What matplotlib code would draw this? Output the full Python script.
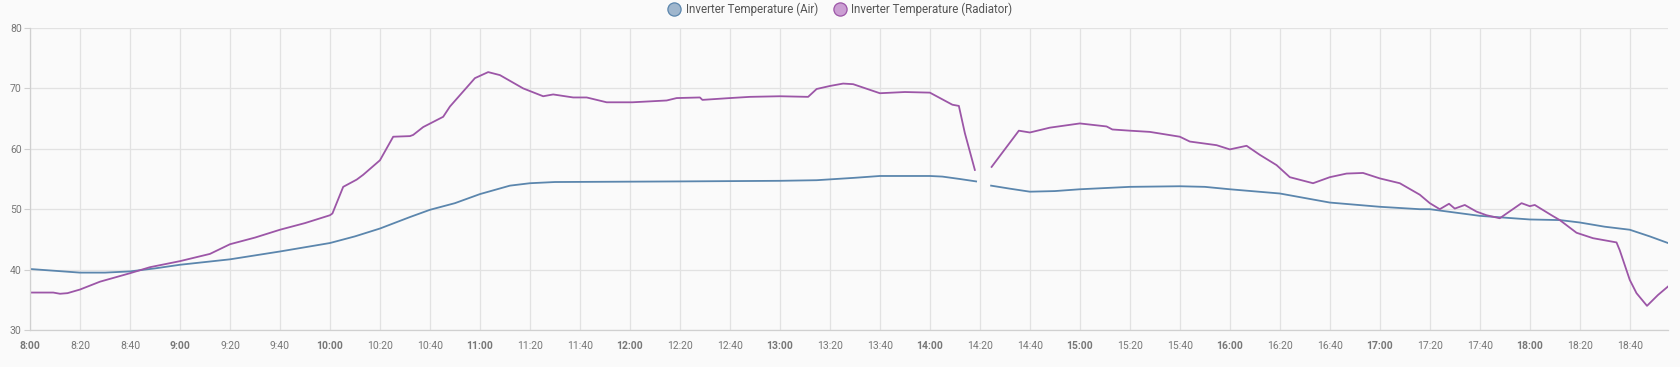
#!/usr/bin/env python3

import numpy as np
import matplotlib
matplotlib.use('Agg')
import matplotlib.pyplot as plt
from matplotlib.lines import Line2D

# minutes after 8:00, nan = no data (gap around 14:20)
air_minutes = [0, 10, 20, 30, 40, 50, 60, 80, 100, 120, 130, 140, 152, 160, 170,
			   180, 192, 200, 210, 260, 300, 314.7, 330, 340, 360, 365, 372, 378.5,
			   381, 384.5, 392, 400, 410, 420, 440, 460, 470, 480, 500, 520, 540,
			   556, 560, 580, 600, 612, 620, 630, 640, 648, 655.3]
air_temp = [40.1, 39.8, 39.5, 39.5, 39.7, 40.2, 40.8, 41.7, 43.0, 44.4, 45.5, 46.8, 48.7, 49.9, 51.0,
			52.5, 53.9, 54.3, 54.5, 54.6, 54.7, 54.8, 55.2, 55.5, 55.5, 55.4, 55.0, 54.6,
			np.nan, 53.9, 53.4, 52.9, 53.0, 53.3, 53.7, 53.8, 53.7, 53.3, 52.6, 51.1, 50.4,
			50.0, 50.0, 48.9, 48.3, 48.2, 47.8, 47.1, 46.6, 45.5, 44.4]

rad_minutes = [0, 9.3, 12, 15, 20, 28, 40, 48, 60, 72, 80, 90, 100, 110, 120, 121,
			   125.3, 130.7, 133.3, 140, 145.3, 152, 153.3, 157.3, 165.3, 168, 178, 183.3,
			   188, 197.3, 205.3, 209.3, 217.3, 222.7, 230.7, 241, 254.7, 258.7, 268, 269,
			   280, 288, 300, 311.3, 314.7, 320, 325.3, 329.3, 340, 350, 360, 369, 371.6,
			   374, 378, 381, 384.7, 395.6, 400, 408, 420, 430.7, 433, 440, 448, 460, 464,
			   474.7, 480, 486.7, 492, 498.7, 504, 513.3, 520, 526.7, 533.3, 540, 548, 556,
			   560, 564, 567.7, 570, 574, 578.7, 582.7, 588, 596.7, 600, 602, 608.7, 612,
			   618.7, 625.3, 634.7, 636, 640, 642.7, 646.9, 651.3, 655.3]
rad_temp = [36.2, 36.2, 36.0, 36.1, 36.7, 38.0, 39.4, 40.4, 41.4, 42.6, 44.2, 45.3, 46.6, 47.7, 49.0, 49.3,
			53.7, 54.9, 55.7, 58.1, 62.0, 62.1, 62.3, 63.6, 65.3, 67.0, 71.7, 72.7,
			72.2, 70.0, 68.7, 69.0, 68.5, 68.5, 67.7, 67.7, 68.0, 68.4, 68.5, 68.1,
			68.4, 68.6, 68.7, 68.6, 69.9, 70.4, 70.8, 70.7, 69.2, 69.4, 69.3, 67.3, 67.1,
			62.6, 56.5, np.nan, 57.0, 63.0, 62.7, 63.5, 64.2, 63.7, 63.2, 63.0, 62.8, 62.0, 61.2,
			60.6, 59.9, 60.5, 59.0, 57.3, 55.3, 54.3, 55.3, 55.9, 56.0, 55.1, 54.3, 52.4,
			51.0, 50.0, 50.9, 50.1, 50.7, 49.6, 49.0, 48.5, 51.0, 50.5, 50.7, 49.0, 48.2,
			46.1, 45.2, 44.5, 43.2, 38.3, 36.1, 34.0, 35.8, 37.2]

series_names = ['Inverter Temperature (Air)', 'Inverter Temperature (Radiator)']
series_colors = ['#5b86ad', '#9c56a7']
legend_fill = ['#9fb6cd', '#cb9fd3']

y_ticks = [30, 40, 50, 60, 70, 80]
x_tick_minutes = list(range(0, 641, 20))


def tick_label(m):
	h = 8 + m // 60
	return '{}:{:02d}'.format(h, m % 60)


def draw_chart():
	"""
	Build the temperature history chart and save it
	"""
	plt.rcParams['font.family'] = ['Roboto', 'DejaVu Sans']
	fig = plt.figure(figsize=(16.81, 3.67), dpi=100)
	fig.patch.set_facecolor('#fafafa')
	ax = fig.add_axes([30 / 1681, 37 / 367, 1638 / 1681, 302 / 367])
	ax.set_facecolor('#fafafa')

	ax.plot(air_minutes, air_temp, color=series_colors[0], lw=1.3, solid_joinstyle='round')
	ax.plot(rad_minutes, rad_temp, color=series_colors[1], lw=1.3, solid_joinstyle='round')

	ax.set_xlim(0, 655.3)
	ax.set_ylim(30, 80)
	ax.set_yticks(y_ticks)
	ax.set_xticks(x_tick_minutes)
	ax.set_xticklabels([tick_label(m) for m in x_tick_minutes])
	for lab, m in zip(ax.get_xticklabels(), x_tick_minutes):
		if m % 60 == 0:
			lab.set_fontweight('bold')
			lab.set_color('#555555')
	ax.grid(True, color='#e2e2e2', lw=0.9)
	ax.set_axisbelow(True)
	for side in ['top', 'right']:
		ax.spines[side].set_visible(False)
	for side in ['left', 'bottom']:
		ax.spines[side].set_color('#d0d0d0')
		ax.spines[side].set_linewidth(0.9)
	ax.tick_params(axis='x', length=0, pad=8, labelsize=7.5, labelcolor='#777777')
	ax.tick_params(axis='y', length=4, width=0.8, color='#d0d0d0', pad=2,
				   labelsize=7.5, labelcolor='#777777')

	handles = [Line2D([], [], ls='none', marker='o', markersize=9.5,
					  markerfacecolor=legend_fill[i], markeredgecolor=series_colors[i],
					  markeredgewidth=0.9) for i in range(2)]
	fig.legend(handles, series_names, loc='center', bbox_to_anchor=(0.5, 1 - 9 / 367),
			   ncol=2, frameon=False, fontsize=8.3, labelcolor='#555555',
			   handletextpad=0.5, columnspacing=1.4, handlelength=1.0)

	fig.savefig('out.png', dpi=100, facecolor=fig.get_facecolor())


if __name__ == '__main__':
	draw_chart()
